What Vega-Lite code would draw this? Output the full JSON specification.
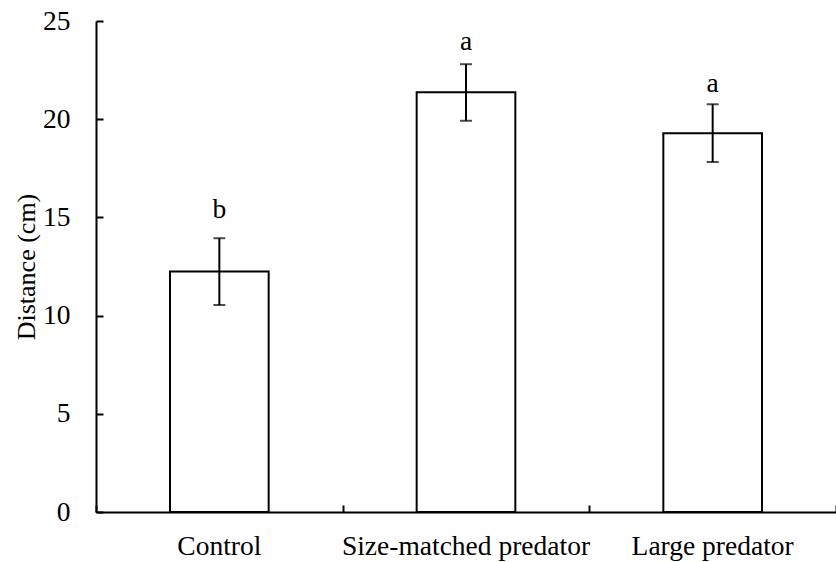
{
  "$schema": "https://vega.github.io/schema/vega-lite/v6.json",
  "autosize": "none",
  "width": 740,
  "height": 491,
  "padding": {"left": 96, "top": 21, "right": 0, "bottom": 50},
  "background": "white",
  "config": {
    "view": {"stroke": null},
    "font": "Liberation Serif",
    "axis": {"domainColor": "black", "domainWidth": 2, "tickColor": "black", "tickWidth": 2, "labelColor": "black", "titleColor": "black", "labelFont": "Liberation Serif", "titleFont": "Liberation Serif", "labelFontSize": 27.5, "titleFontSize": 26, "titleFontWeight": "normal", "grid": false, "labelLimit": 0}
  },
  "data": {
    "values": [
      {"group": "Control", "mean": 12.24, "lower": 10.54, "upper": 13.94, "letter": "b", "letter_y": 14.95},
      {"group": "Size-matched predator", "mean": 21.37, "lower": 19.92, "upper": 22.8, "letter": "a", "letter_y": 23.5},
      {"group": "Large predator", "mean": 19.28, "lower": 17.82, "upper": 20.76, "letter": "a", "letter_y": 21.4}
    ]
  },
  "resolve": {"axis": {"x": "independent", "y": "independent"}},
  "layer": [
    {
      "mark": {"type": "bar", "fill": "white", "stroke": "black", "strokeWidth": 2, "width": {"band": 0.4}},
      "encoding": {
        "x": {
          "field": "group", "type": "nominal", "sort": null,
          "scale": {"paddingInner": 0, "paddingOuter": 0},
          "axis": {"title": null, "labelAngle": 0, "ticks": false, "labelPadding": 20}
        },
        "y": {"field": "mean", "type": "quantitative", "scale": {"domain": [0, 25], "nice": false},
          "axis": {"title": "Distance (cm)", "values": [0, 5, 10, 15, 20, 25], "ticks": false, "labelPadding": 26, "titlePadding": 3}}
      }
    },
    {
      "mark": {"type": "rule", "stroke": "black", "strokeWidth": 2},
      "encoding": {
        "x": {"field": "group", "type": "nominal", "sort": null,
          "axis": {"orient": "top", "offset": -491, "title": null, "labels": false, "domain": false, "tickBand": "extent", "tickSize": 7, "ticks": true}},
        "y": {"field": "lower", "type": "quantitative",
          "axis": {"orient": "right", "offset": -740, "title": null, "labels": false, "domain": false, "values": [0, 5, 10, 15, 20, 25], "tickSize": 7, "ticks": true}},
        "y2": {"field": "upper"}
      }
    },
    {
      "mark": {"type": "tick", "color": "black", "thickness": 2, "size": 12, "orient": "horizontal"},
      "encoding": {
        "x": {"field": "group", "type": "nominal", "sort": null, "axis": null},
        "y": {"field": "lower", "type": "quantitative", "axis": null}
      }
    },
    {
      "mark": {"type": "tick", "color": "black", "thickness": 2, "size": 12, "orient": "horizontal"},
      "encoding": {
        "x": {"field": "group", "type": "nominal", "sort": null, "axis": null},
        "y": {"field": "upper", "type": "quantitative", "axis": null}
      }
    },
    {
      "mark": {"type": "text", "font": "Liberation Serif", "fontSize": 27.5, "color": "black", "baseline": "alphabetic"},
      "encoding": {
        "x": {"field": "group", "type": "nominal", "sort": null, "axis": null},
        "y": {"field": "letter_y", "type": "quantitative", "axis": null},
        "text": {"field": "letter"}
      }
    }
  ]
}
